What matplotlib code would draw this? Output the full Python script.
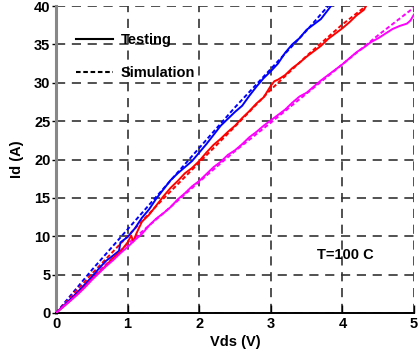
import matplotlib
matplotlib.use('Agg')
import matplotlib.pyplot as plt
from matplotlib.lines import Line2D

plt.rcParams['font.family'] = ['Liberation Sans', 'DejaVu Sans']
plt.rcParams['font.weight'] = 'bold'

# Measured Id-Vds curves (solid) and simulated curves (dashed)
vds_blue_test = [0.0, 0.1, 0.2, 0.3, 0.4, 0.5, 0.6, 0.7, 0.8, 0.88, 0.9, 1.0,
                 1.1, 1.2, 1.3, 1.4, 1.5, 1.6, 1.7, 1.8, 1.9, 2.0, 2.1, 2.2,
                 2.3, 2.4, 2.5, 2.6, 2.7, 2.8, 2.9, 3.0, 3.1, 3.2, 3.3, 3.4,
                 3.5, 3.6, 3.7, 3.8, 3.84]
id_blue_test = [0.0, 0.9, 1.8, 2.7, 3.7, 4.7, 5.8, 6.8, 7.5, 8.1, 9.2, 9.9,
                11.0, 12.4, 13.5, 14.9, 16.1, 17.3, 18.2, 19.0, 19.8, 20.9, 22.0, 23.2,
                24.4, 25.3, 26.2, 27.0, 28.3, 29.5, 30.6, 31.5, 32.5, 33.9, 35.0, 35.8,
                36.9, 37.6, 38.3, 39.5, 40.0]

vds_red_test = [0.0, 0.1, 0.2, 0.3, 0.4, 0.5, 0.6, 0.7, 0.8, 0.9, 1.0, 1.05,
                1.08, 1.12, 1.2, 1.3, 1.4, 1.5, 1.6, 1.7, 1.8, 1.9, 2.0, 2.1,
                2.2, 2.3, 2.4, 2.5, 2.6, 2.7, 2.8, 2.9, 3.0, 3.05, 3.1, 3.2,
                3.3, 3.4, 3.5, 3.6, 3.7, 3.8, 3.9, 4.0, 4.1, 4.2, 4.3, 4.33]
id_red_test = [0.0, 0.8, 1.6, 2.5, 3.4, 4.4, 5.3, 6.2, 7.2, 8.0, 9.2, 10.1,
               9.3, 10.3, 11.9, 12.8, 14.0, 15.2, 16.3, 17.2, 18.2, 18.9, 19.8, 20.9,
               21.9, 22.7, 23.6, 24.4, 25.4, 26.3, 27.3, 28.1, 29.6, 30.2, 30.4, 31.0,
               31.9, 32.6, 33.4, 34.1, 34.8, 35.7, 36.4, 37.1, 37.9, 38.8, 39.5, 40.0]

vds_mag_test = [0.0, 0.1, 0.2, 0.3, 0.4, 0.5, 0.6, 0.7, 0.8, 0.9, 1.0, 1.1,
                1.2, 1.3, 1.4, 1.5, 1.6, 1.7, 1.8, 1.9, 2.0, 2.1, 2.2, 2.3,
                2.4, 2.5, 2.6, 2.7, 2.8, 2.9, 3.0, 3.1, 3.2, 3.3, 3.4, 3.5,
                3.6, 3.7, 3.8, 3.9, 4.0, 4.1, 4.2, 4.3, 4.4, 4.5, 4.6, 4.7,
                4.8, 4.9, 4.95, 5.0]
id_mag_test = [0.0, 0.8, 1.6, 2.4, 3.3, 4.3, 5.2, 6.1, 6.9, 7.8, 8.6, 9.5,
               10.3, 11.4, 12.3, 13.0, 13.8, 14.8, 15.6, 16.5, 17.2, 18.1, 19.0, 19.7,
               20.6, 21.2, 22.0, 22.9, 23.6, 24.4, 25.1, 25.8, 26.5, 27.4, 28.2, 28.7,
               29.5, 30.3, 31.0, 31.7, 32.4, 33.2, 34.0, 34.6, 35.3, 35.8, 36.4, 37.0,
               37.4, 37.7, 38.1, 38.9]

vds_blue_sim = [0.0, 0.5, 1.0, 1.5, 2.0, 2.5, 3.0, 3.5, 3.8]
id_blue_sim = [0.0, 5.6, 10.9, 16.2, 21.5, 26.8, 31.8, 36.8, 40.0]

vds_red_sim = [0.0, 0.5, 1.0, 1.5, 2.0, 2.5, 3.0, 3.5, 4.0, 4.33]
id_red_sim = [0.0, 5.1, 10.0, 14.9, 19.6, 24.3, 29.1, 33.5, 37.6, 40.0]

vds_mag_sim = [0.0, 0.5, 1.0, 1.5, 2.0, 2.5, 3.0, 3.5, 4.0, 4.5, 5.0]
id_mag_sim = [0.0, 4.6, 9.0, 13.0, 17.1, 21.1, 24.8, 28.6, 32.4, 36.2, 39.8]

x_ticks = [0, 1, 2, 3, 4, 5]
y_ticks = [0, 5, 10, 15, 20, 25, 30, 35, 40]

fig = plt.figure(figsize=(4.19, 3.56), dpi=100)
ax = fig.add_axes([56 / 419, 1 - 313 / 356, 358 / 419, 307 / 356])

sim_dash = (0, (2.2, 1.3))
ax.plot(vds_blue_sim, id_blue_sim, color='#0000ff', lw=1.4, ls=sim_dash, zorder=3)
ax.plot(vds_red_sim, id_red_sim, color='#ff0000', lw=1.4, ls=sim_dash, zorder=3)
ax.plot(vds_mag_sim, id_mag_sim, color='#ff00ff', lw=1.4, ls=sim_dash, zorder=3)
ax.plot(vds_blue_test, id_blue_test, color='#0000ff', lw=1.4, zorder=4)
ax.plot(vds_red_test, id_red_test, color='#ff0000', lw=1.4, zorder=4)
ax.plot(vds_mag_test, id_mag_test, color='#ff00ff', lw=1.4, zorder=4)

ax.set_xlim(0, 5)
ax.set_ylim(0, 40)
ax.set_xticks(x_ticks)
ax.set_yticks(y_ticks)
ax.tick_params(axis='x', direction='in', length=6, width=1, labelsize=10.5, pad=3)
ax.tick_params(axis='y', direction='out', length=3, width=1, labelsize=10.5, pad=1)
for lab in ax.get_xticklabels() + ax.get_yticklabels():
    lab.set_fontweight('bold')

ax.grid(True, color='#333333', lw=1.2, ls=(0, (5.5, 4)), zorder=1)
for side in ['top', 'right']:
    ax.spines[side].set_visible(False)
ax.spines['bottom'].set_linewidth(1.4)
ax.spines['left'].set_color('#888888')
ax.spines['left'].set_linewidth(2.2)

ax.set_xlabel('Vds (V)', fontsize=10.5, fontweight='bold', labelpad=3)
ax.set_ylabel('Id (A)', fontsize=10.5, fontweight='bold', labelpad=7)

ax.text(4.04, 7.6, 'T=100 C', fontsize=10.5, fontweight='bold',
        ha='center', va='center', zorder=5)

handles = [Line2D([], [], color='black', lw=1.5, ls='-'),
           Line2D([], [], color='black', lw=1.5, ls=(0, (2.2, 1.3)))]
ax.legend(handles, ['Testing', 'Simulation'], loc='upper left',
          bbox_to_anchor=(0.02, 0.955), frameon=False,
          handlelength=2.5, handletextpad=0.55, labelspacing=1.3,
          prop={'weight': 'bold', 'size': 10.5})

fig.savefig('out.png', dpi=100, facecolor='white')
